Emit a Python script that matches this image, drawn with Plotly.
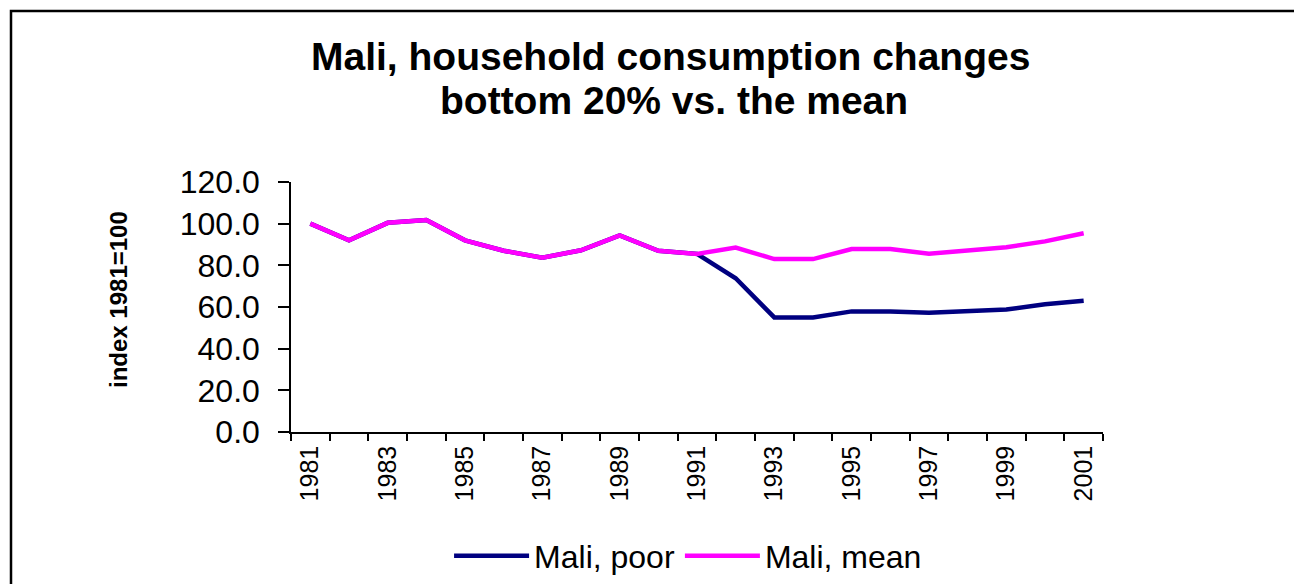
import plotly.graph_objects as go

years = list(range(1981, 2002))
mali_mean = [100.0, 92.0, 100.4, 101.8, 92.0, 87.0, 83.7, 87.2, 94.4, 87.0, 85.5,
             88.5, 83.0, 83.0, 87.8, 87.8, 85.6, 87.0, 88.7, 91.5, 95.4]
mali_poor = [100.0, 92.0, 100.4, 101.8, 92.0, 87.0, 83.7, 87.2, 94.4, 87.0, 85.5,
             73.8, 55.0, 55.0, 57.9, 57.9, 57.3, 58.0, 58.8, 61.3, 63.0]
x_tick_labels = [str(y) for y in range(1981, 2002, 2)]
y_ticks = [0, 20, 40, 60, 80, 100, 120]

title_line1 = "<b>Mali, household consumption changes</b>"
title_line2 = "<b>bottom 20% vs. the mean</b>"
y_title = "<b>index 1981=100</b>"

FONT = "Liberation Sans, Arial, sans-serif"

fig = go.Figure()
fig.add_trace(go.Scatter(x=years, y=mali_poor, mode="lines", name="Mali, poor",
                         line=dict(color="#000080", width=4.5)))
fig.add_trace(go.Scatter(x=years, y=mali_mean, mode="lines", name="Mali, mean",
                         line=dict(color="#FF00FF", width=4.5)))

# page body has an 8px margin, so the figure is shrunk and shifted accordingly
fig.update_layout(
    width=1294, height=576,
    margin=dict(l=283, r=199, t=174, b=152, autoexpand=False),
    paper_bgcolor="white", plot_bgcolor="white",
    font=dict(family=FONT, color="black"),
    showlegend=True,
    legend=dict(orientation="h", x=0.489, xanchor="center", y=-0.496, yanchor="middle",
                font=dict(size=32, family=FONT, color="black"), bgcolor="rgba(0,0,0,0)",
                itemwidth=75, tracegroupgap=0),
    annotations=[
        dict(text=title_line1, xref="paper", yref="paper", x=(670 - 291) / 812,
             y=(432 - 56) / 250, xanchor="center", yanchor="middle", showarrow=False,
             font=dict(size=39, family=FONT, color="black")),
        dict(text=title_line2, xref="paper", yref="paper", x=(674 - 291) / 812,
             y=(432 - 101) / 250, xanchor="center", yanchor="middle", showarrow=False,
             font=dict(size=39, family=FONT, color="black")),
        dict(text=y_title, xref="paper", yref="paper", x=(118 - 291) / 812,
             y=(432 - 300) / 250, xanchor="center", yanchor="middle", showarrow=False,
             textangle=-90, font=dict(size=24, family=FONT, color="black")),
    ],
    shapes=[
        dict(type="rect", xref="paper", yref="paper",
             x0=(11 - 291) / 812, x1=(1320 - 291) / 812,
             y0=(432 - 620) / 250, y1=(432 - 11) / 250,
             line=dict(color="black", width=2.5), fillcolor="rgba(0,0,0,0)", layer="below"),
    ],
)

fig.update_xaxes(
    range=[1980.5, 2001.5],
    tickmode="array", tickvals=list(range(1981, 2002, 2)), ticktext=x_tick_labels,
    tickangle=-90, tickfont=dict(size=25, family=FONT, color="black"),
    ticks="", ticklabelstandoff=2,
    minor=dict(ticks="outside", tick0=1980.5, dtick=1, ticklen=7, tickwidth=1.5,
               tickcolor="black", showgrid=False),
    showline=True, linecolor="black", linewidth=1.5,
    showgrid=False, zeroline=False, automargin=False,
)
fig.update_yaxes(
    range=[0, 120], tickmode="array", tickvals=y_ticks,
    ticktext=[f"{v:.1f}" for v in y_ticks],
    ticks="outside", ticklen=11, tickwidth=1.5, tickcolor="black",
    ticklabelstandoff=12,
    tickfont=dict(size=32, family=FONT, color="black"),
    showline=True, linecolor="black", linewidth=1.5,
    showgrid=False, zeroline=False, automargin=False,
)

fig.write_html("out.html")
